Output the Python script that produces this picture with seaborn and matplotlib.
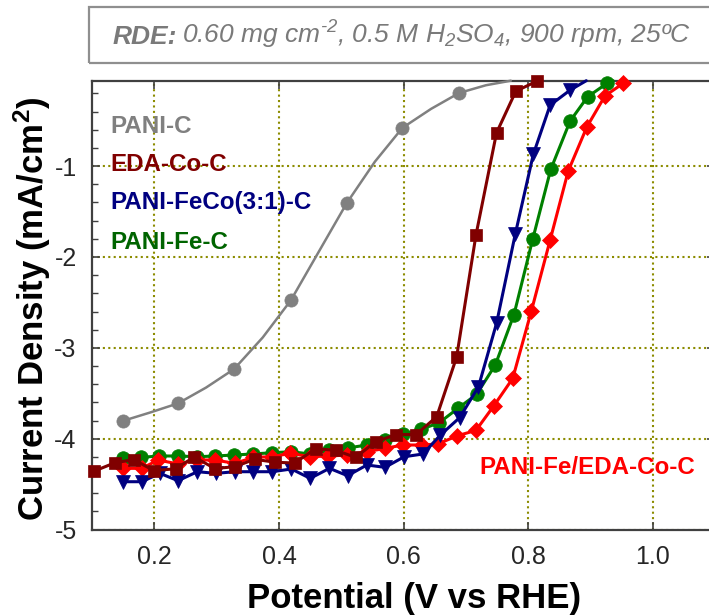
import matplotlib
matplotlib.use("Agg")
import matplotlib.pyplot as plt
from matplotlib.patches import Rectangle
from matplotlib.ticker import MultipleLocator, FixedLocator, FixedFormatter
import seaborn as sns

# ---------------- data ----------------
# PANI-C : line trace (markers at even indices)
gray_v = [0.149, 0.193, 0.238, 0.283, 0.328, 0.374, 0.419, 0.464, 0.509, 0.554,
          0.598, 0.644, 0.689, 0.732, 0.772]
gray_j = [-3.805, -3.712, -3.611, -3.437, -3.233, -2.885, -2.477, -1.940, -1.404, -0.950,
          -0.579, -0.370, -0.195, -0.110, -0.060]

# EDA-Co-C
maroon_v = [0.104, 0.137, 0.167, 0.199, 0.234, 0.264, 0.297, 0.329, 0.361, 0.394, 0.425,
            0.459, 0.491, 0.523, 0.555, 0.588, 0.620, 0.653, 0.685, 0.716, 0.749, 0.780, 0.814]
maroon_j = [-4.355, -4.264, -4.230, -4.350, -4.331, -4.201, -4.328, -4.308, -4.226, -4.259, -4.267,
            -4.110, -4.128, -4.205, -4.033, -3.954, -3.954, -3.758, -3.101, -1.759, -0.634, -0.175, -0.065]

# PANI-FeCo(3:1)-C (last point: line end at the top frame)
blue_v = [0.150, 0.180, 0.209, 0.238, 0.269, 0.299, 0.329, 0.359, 0.389, 0.420, 0.450, 0.481,
          0.510, 0.541, 0.570, 0.601, 0.631, 0.659, 0.690, 0.720, 0.749, 0.779, 0.808, 0.835,
          0.867, 0.893]
blue_j = [-4.473, -4.473, -4.381, -4.462, -4.363, -4.381, -4.363, -4.363, -4.363, -4.333, -4.436,
          -4.326, -4.407, -4.289, -4.315, -4.198, -4.168, -3.959, -3.767, -3.428, -2.730, -1.751,
          -0.871, -0.329, -0.164, -0.060]

# PANI-Fe-C (last point: line end at the top frame)
green_v = [0.149, 0.179, 0.208, 0.238, 0.268, 0.298, 0.328, 0.358, 0.389, 0.420, 0.450, 0.481,
           0.510, 0.541, 0.570, 0.599, 0.628, 0.657, 0.687, 0.717, 0.747, 0.777, 0.807, 0.836,
           0.867, 0.895, 0.926, 0.936]
green_j = [-4.216, -4.205, -4.190, -4.190, -4.198, -4.190, -4.179, -4.168, -4.154, -4.143, -4.168,
           -4.124, -4.102, -4.069, -4.014, -3.948, -3.897, -3.824, -3.666, -3.512, -3.189, -2.634,
           -1.806, -1.036, -0.505, -0.238, -0.090, -0.060]

# PANI-Fe/EDA-Co-C
red_v = [0.150, 0.180, 0.206, 0.238, 0.269, 0.297, 0.329, 0.359, 0.389, 0.418, 0.450, 0.479,
         0.509, 0.541, 0.570, 0.599, 0.629, 0.655, 0.685, 0.716, 0.745, 0.775, 0.805, 0.835,
         0.864, 0.894, 0.923, 0.952]
red_j = [-4.326, -4.326, -4.234, -4.278, -4.234, -4.234, -4.271, -4.205, -4.198, -4.161, -4.198,
         -4.190, -4.180, -4.143, -4.106, -4.069, -4.069, -4.058, -3.970, -3.908, -3.635, -3.336,
         -2.592, -1.814, -1.055, -0.568, -0.227, -0.090]

x_ticks = [0.2, 0.4, 0.6, 0.8, 1.0]
x_tick_labels = ["0.2", "0.4", "0.6", "0.8", "1.0"]
y_ticks = [-5, -4, -3, -2, -1]
y_tick_labels = ["-5", "-4", "-3", "-2", "-1"]

names = ["PANI-C", "EDA-Co-C", "PANI-FeCo(3:1)-C", "PANI-Fe-C", "PANI-Fe/EDA-Co-C"]
colors = ["#808080", "#800000", "#000080", "#008000", "#ff0000"]
text_colors = ["#808080", "#800000", "#000080", "#006400", "#ff0000"]

# ---------------- style ----------------
sns.set_style("ticks")
plt.rcParams['font.family'] = ['Liberation Sans', 'DejaVu Sans']
plt.rcParams['axes.unicode_minus'] = False
plt.rcParams['mathtext.fontset'] = 'custom'
plt.rcParams['mathtext.rm'] = 'Liberation Sans:italic'
plt.rcParams['mathtext.it'] = 'Liberation Sans:italic'
plt.rcParams['mathtext.bf'] = 'Liberation Sans:bold'

W, H = 709, 616
fig = plt.figure(figsize=(W / 100, H / 100), dpi=100)
x_left, x_right, y_bot, y_top = 92, 715.3, 529.6, 80.7
ax = fig.add_axes([x_left / W, (H - y_bot) / H, (x_right - x_left) / W, (y_bot - y_top) / H])

common = dict(ax=ax, sort=False, errorbar=None, clip_on=False)

sns.lineplot(x=gray_v, y=gray_j, color=colors[0], linewidth=1.8, marker='o',
             markersize=9.5, markeredgecolor=colors[0], markeredgewidth=0.5,
             markevery=list(range(0, 13, 2)), zorder=3, **common)
sns.lineplot(x=green_v, y=green_j, color=colors[3], linewidth=2.2, marker='o',
             markersize=9.8, markeredgecolor=colors[3], markeredgewidth=0.5,
             markevery=list(range(len(green_v) - 1)), zorder=4, **common)
sns.lineplot(x=red_v, y=red_j, color=colors[4], linewidth=2.2, marker='D',
             markersize=8.2, markeredgecolor=colors[4], markeredgewidth=0.5,
             zorder=5, **common)
sns.lineplot(x=blue_v, y=blue_j, color=colors[2], linewidth=2.2, marker='v',
             markersize=10.5, markeredgecolor=colors[2], markeredgewidth=0.5,
             markevery=list(range(len(blue_v) - 1)), zorder=6, **common)
sns.lineplot(x=maroon_v, y=maroon_j, color=colors[1], linewidth=2.2, marker='s',
             markersize=8.5, markeredgecolor=colors[1], markeredgewidth=0.5,
             zorder=7, **common)

ax.set_xlim(0.1, 1.1)
ax.set_ylim(-5, -0.06)
ax.xaxis.set_major_locator(FixedLocator(x_ticks))
ax.xaxis.set_major_formatter(FixedFormatter(x_tick_labels))
ax.yaxis.set_major_locator(FixedLocator(y_ticks))
ax.yaxis.set_major_formatter(FixedFormatter(y_tick_labels))
ax.yaxis.set_minor_locator(MultipleLocator(0.2))

ax.set_axisbelow(True)
ax.grid(True, which='major', color='#8c8c00', linestyle=(0, (1, 1.6)), linewidth=1.5)

for s in ax.spines.values():
    s.set_linewidth(1.6)
    s.set_color('#404040')
    s.set_visible(True)

ax.tick_params(which='both', direction='in', top=True, right=True, color='#404040')
ax.tick_params(which='major', length=6, width=1.2, labelsize=18, pad=11)
ax.tick_params(which='minor', length=4.5, width=1.0)
ax.set_xlabel("")
ax.set_ylabel("")

# series labels
ax.text(0.130, -0.634, names[0], color=text_colors[0], fontsize=17.4, fontweight='bold', va='baseline')
ax.text(0.130, -1.055, names[1], color=text_colors[1], fontsize=17.4, fontweight='bold', va='baseline')
ax.text(0.130, -1.476, names[2], color=text_colors[2], fontsize=17.4, fontweight='bold', va='baseline')
ax.text(0.130, -1.913, names[3], color=text_colors[3], fontsize=17.4, fontweight='bold', va='baseline')
ax.text(0.7214, -4.388, names[4], color=text_colors[4], fontsize=17.4, fontweight='bold', va='baseline')

# axis titles
fig.text(414 / W, (H - 608.3) / H, "Potential (V vs RHE)", fontsize=25, fontweight='bold',
         ha='center', va='baseline', color='black')
fig.text(32 / W, (H - 309) / H, r"Current Density (mA/cm$^{\mathbf{2}}$)", fontsize=25,
         fontweight='bold', rotation=90, ha='center', va='center', color='black')

# condition box
rect = Rectangle((89 / W, (H - 63.3) / H), 1.0, (63.3 - 7.3) / H, transform=fig.transFigure,
                 fill=False, edgecolor='#8f8f8f', linewidth=1.6)
fig.add_artist(rect)
title_y = (H - 44) / H
t1 = fig.text(113 / W, title_y, "RDE:", fontsize=19, style='italic', fontweight='bold',
              color='#7a7a7a', ha='left', va='baseline')
fig.canvas.draw()
bb = t1.get_window_extent(renderer=fig.canvas.get_renderer())
fig.text((bb.x1 + 5) / W, title_y,
         r"0.60 mg cm$^{\text{-2}}$, 0.5 M H$_2$SO$_4$, 900 rpm, 25ºC",
         fontsize=19, style='italic', color='#7a7a7a', ha='left', va='baseline')

fig.savefig("out.png", dpi=100)
